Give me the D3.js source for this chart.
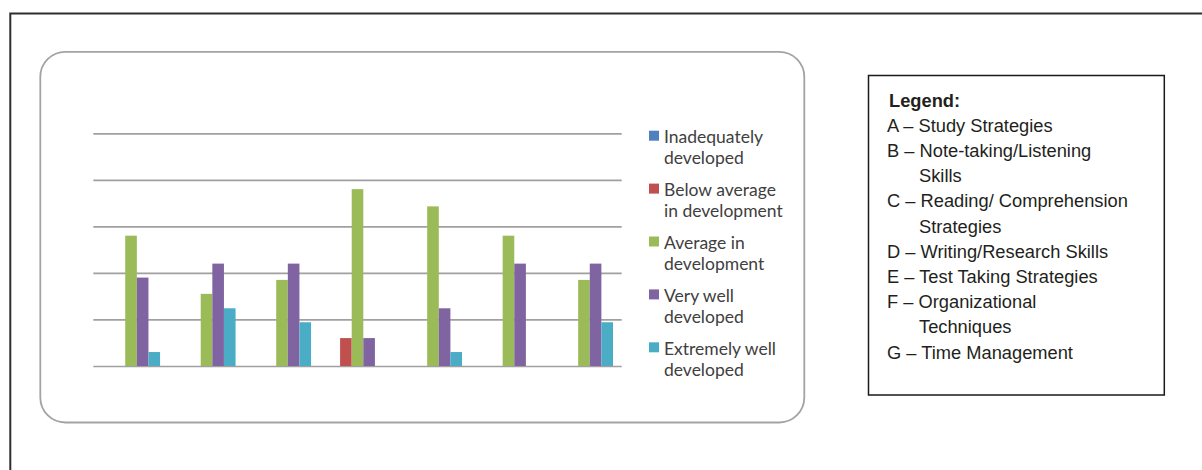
<!DOCTYPE html>
<html>
<head>
<meta charset="utf-8">
<script src="https://cdn.jsdelivr.net/npm/d3@7"></script>
<style>
  html, body { margin: 0; padding: 0; background: #fff; }
  svg { display: block; }
</style>
</head>
<body>
<svg id="chart" width="1202" height="470"></svg>
<script>
// Skill areas (A–G) and the share of respondents (%) at each development level
const categories = ["A", "B", "C", "D", "E", "F", "G"];
const seriesNames = [
  "Inadequately developed",
  "Below average in development",
  "Average in development",
  "Very well developed",
  "Extremely well developed"
];
const inadequately   = [0, 0, 0, 0, 0, 0, 0];
const belowAverage   = [0, 0, 0, 6, 0, 0, 0];
const average        = [28, 15.5, 18.5, 38, 34.3, 28, 18.5];
const veryWell       = [19, 22, 22, 6, 12.4, 22, 22];
const extremelyWell  = [3, 12.4, 9.4, 0, 3, 0, 9.4];
const yTicks = [0, 10, 20, 30, 40, 50];

const legendLines = [
  { text: "A – Study Strategies", indent: false },
  { text: "B – Note-taking/Listening", indent: false },
  { text: "Skills", indent: true },
  { text: "C – Reading/ Comprehension", indent: false },
  { text: "Strategies", indent: true },
  { text: "D – Writing/Research Skills", indent: false },
  { text: "E – Test Taking Strategies", indent: false },
  { text: "F – Organizational", indent: false },
  { text: "Techniques", indent: true },
  { text: "G – Time Management", indent: false }
];

const seriesValues = [inadequately, belowAverage, average, veryWell, extremelyWell];
const colors = ["#4f81bd", "#c0504d", "#9bbb59", "#8064a2", "#4bacc6"];

const svg = d3.select("#chart");

// page frame
svg.append("path")
  .attr("d", "M10.3,470 L10.3,13.6 L1202,13.6")
  .attr("fill", "none")
  .attr("stroke", "#2e2e2e")
  .attr("stroke-width", 2);

// rounded chart panel
svg.append("rect")
  .attr("x", 40.3).attr("y", 51.9)
  .attr("width", 804.3 - 40.3).attr("height", 422.5 - 51.9)
  .attr("rx", 25).attr("ry", 25)
  .attr("fill", "#fff")
  .attr("stroke", "#a3a3a3")
  .attr("stroke-width", 1.8);

// plot area
const plot = { left: 93.3, right: 621.7, top: 133.3, bottom: 366 };

const x0 = d3.scaleBand()
  .domain(categories)
  .range([plot.left, plot.right])
  .paddingInner(1.5 / 6.5)
  .paddingOuter(0.75 / 6.5);

const x1 = d3.scaleBand()
  .domain(d3.range(seriesNames.length))
  .range([0, x0.bandwidth()]);

const y = d3.scaleLinear()
  .domain([0, 50])
  .range([plot.bottom, plot.top]);

// horizontal gridlines
const yAxis = d3.axisLeft(y)
  .tickValues(yTicks)
  .tickSize(-(plot.right - plot.left))
  .tickFormat("");
const gy = svg.append("g")
  .attr("transform", `translate(${plot.left},0)`)
  .call(yAxis);
gy.select(".domain").remove();
gy.selectAll(".tick line")
  .attr("stroke", "#a0a0a0")
  .attr("stroke-width", 1.7);

// bars
const groups = svg.append("g").selectAll("g")
  .data(categories)
  .join("g")
  .attr("transform", d => `translate(${x0(d)},0)`);

groups.selectAll("rect")
  .data((d, ci) => seriesValues.map((vals, si) => ({ si, v: vals[ci] })).filter(e => e.v > 0))
  .join("rect")
  .attr("x", d => x1(d.si))
  .attr("width", x1.bandwidth())
  .attr("y", d => y(d.v))
  .attr("height", d => y(0) - y(d.v))
  .attr("fill", d => colors[d.si]);

// series legend
const legendFont = "Lato, 'Open Sans', sans-serif";
const seriesLabelLines = [
  ["Inadequately", "developed"],
  ["Below average", "in development"],
  ["Average in", "development"],
  ["Very well", "developed"],
  ["Extremely well", "developed"]
];
const lg = svg.append("g");
seriesNames.forEach((name, i) => {
  const top = 130.7 + i * 52.9;
  lg.append("rect")
    .attr("x", 649).attr("y", top)
    .attr("width", 10).attr("height", 10)
    .attr("fill", colors[i]);
  const t = lg.append("text")
    .attr("x", 664)
    .attr("y", top + 12.6)
    .attr("font-family", legendFont)
    .attr("font-size", 17.5)
    .attr("fill", "#404040");
  seriesLabelLines[i].forEach((line, k) => {
    t.append("tspan")
      .attr("x", 664)
      .attr("dy", k === 0 ? 0 : 21)
      .text(line);
  });
});

// category key box
svg.append("rect")
  .attr("x", 868.5).attr("y", 75.5)
  .attr("width", 1164.3 - 868.5).attr("height", 395 - 75.5)
  .attr("fill", "#fff")
  .attr("stroke", "#1a1a1a")
  .attr("stroke-width", 1.5);

const keyFont = "'Liberation Sans', Arial, sans-serif";
svg.append("text")
  .attr("x", 889)
  .attr("y", 106.7)
  .attr("font-family", keyFont)
  .attr("font-size", 18.3)
  .attr("font-weight", "bold")
  .attr("fill", "#231f20")
  .text("Legend:");

svg.append("g").selectAll("text")
  .data(legendLines)
  .join("text")
  .attr("x", d => d.indent ? 919 : 887)
  .attr("y", (d, i) => 131.7 + i * 25.2)
  .attr("font-family", keyFont)
  .attr("font-size", 18.3)
  .attr("fill", "#231f20")
  .text(d => d.text);
</script>
</body>
</html>
